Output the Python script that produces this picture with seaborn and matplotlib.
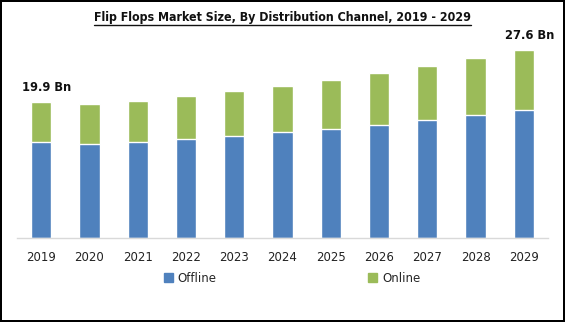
import matplotlib
matplotlib.use("Agg")
import matplotlib.pyplot as plt
import seaborn as sns
import pandas as pd
from matplotlib.patches import Patch

years = ["2019", "2020", "2021", "2022", "2023", "2024", "2025", "2026", "2027", "2028", "2029"]
offline = [14.1, 13.8, 14.1, 14.5, 15.0, 15.5, 16.0, 16.6, 17.3, 18.0, 18.8]
online = [5.8, 5.8, 6.0, 6.3, 6.6, 6.8, 7.2, 7.6, 7.9, 8.4, 8.8]
value_labels = {"2019": "19.9 Bn", "2029": "27.6 Bn"}

BLUE = "#4f81bd"
GREEN = "#9bbb59"

df = pd.DataFrame({"year": years, "Offline": offline, "Online": online})
df["Total"] = df["Offline"] + df["Online"]

sns.set_theme(style="white")
plt.rcParams["font.family"] = ["DejaVu Sans"]

fig = plt.figure(figsize=(5.65, 3.22), dpi=100)
fig.patch.set_edgecolor("black")
fig.patch.set_linewidth(1.5)
ax = fig.add_axes([17 / 565, 84 / 322, 531 / 565, 198 / 322])

# stacked bars: total (online on top) drawn first, offline over it
sns.barplot(data=df, x="year", y="Total", color=GREEN, width=0.42,
            saturation=1, ax=ax)
sns.barplot(data=df, x="year", y="Offline", color=BLUE, width=0.42,
            saturation=1, ax=ax)

ax.set_xlim(-0.5, len(years) - 0.5)
ax.set_ylim(0, 29)
ax.set_xlabel("")
ax.set_ylabel("")
ax.set_yticks([])
for s in ["top", "left", "right"]:
    ax.spines[s].set_visible(False)
ax.spines["bottom"].set_color("#d9d9d9")
ax.spines["bottom"].set_linewidth(1)
ax.tick_params(axis="x", length=0, pad=9.5, labelsize=8.5, colors="#222222")

for i, y in enumerate(years):
    if y in value_labels:
        ax.annotate(value_labels[y], (i, df["Total"][i]), xytext=(4, 5.5),
                    textcoords="offset points", ha="center", va="bottom",
                    fontsize=8.3, fontweight="semibold", color="#111111")

fig.text(0.5, 1 - 17 / 322, "Flip Flops Market Size, By Distribution Channel, 2019 - 2029",
         ha="center", va="center", fontsize=8.9, fontweight="bold",
         color="#111111", fontstretch="condensed")
# underline beneath the title
fig.canvas.draw()
title = fig.texts[-1]
bb = title.get_window_extent()
fig.add_artist(plt.Line2D([bb.x0 / 565, bb.x1 / 565],
                          [(bb.y0 - 1) / 322, (bb.y0 - 1) / 322],
                          color="#111111", linewidth=1, transform=fig.transFigure))

handles = [Patch(color=BLUE, label="Offline"), Patch(color=GREEN, label="Online")]
fig.legend(handles=handles, loc="center", bbox_to_anchor=(292 / 565, 1 - 278 / 322),
           ncol=2, frameon=False, fontsize=8.5, handlelength=0.8, handleheight=0.8,
           handletextpad=0.4, columnspacing=12.8)

fig.savefig("out.png", dpi=100, edgecolor=fig.get_edgecolor())
